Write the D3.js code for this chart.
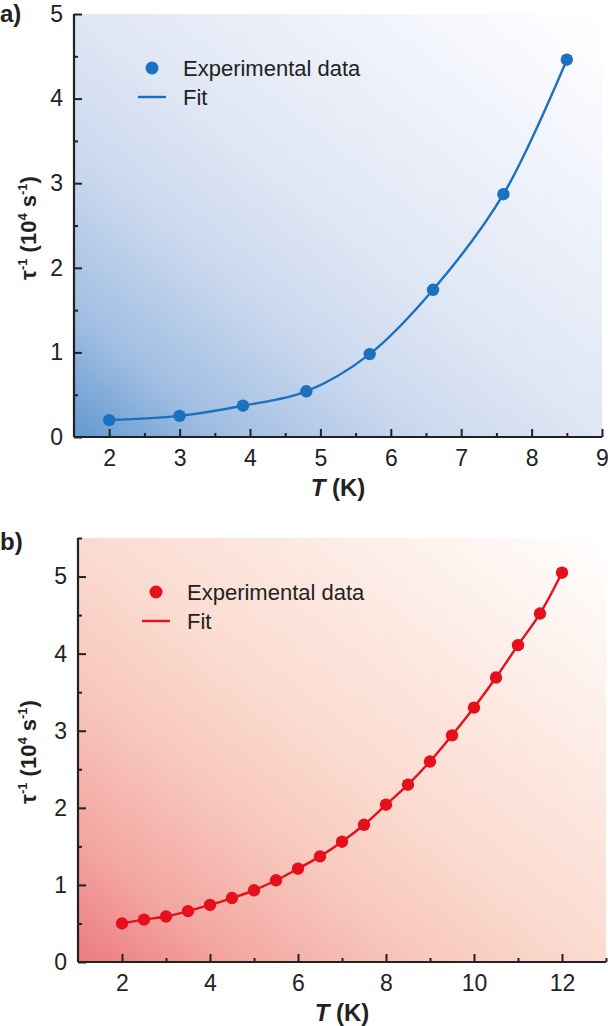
<!DOCTYPE html>
<html><head><meta charset="utf-8">
<script src="https://cdn.jsdelivr.net/npm/d3@7"></script>
<style>body{margin:0;background:#fff;}svg{display:block;font-family:Arial,"Liberation Sans",sans-serif;}</style>
</head><body>
<svg id="c" width="608" height="1026"></svg>
<script>
// Panel a data
const tempA = [2, 3, 3.9, 4.8, 5.7, 6.6, 7.6, 8.5];
const rateA = [0.2, 0.25, 0.37, 0.54, 0.98, 1.74, 2.87, 4.46];
const xTicksA = [2, 3, 4, 5, 6, 7, 8, 9];
const yTicksA = [0, 1, 2, 3, 4, 5];
// Panel b data
const tempB = [2, 2.5, 3, 3.5, 4, 4.5, 5, 5.5, 6, 6.5, 7, 7.5, 8, 8.5, 9, 9.5, 10, 10.5, 11, 11.5, 12];
const rateB = [0.5, 0.55, 0.59, 0.66, 0.74, 0.83, 0.93, 1.06, 1.21, 1.37, 1.56, 1.78, 2.04, 2.3, 2.6, 2.94, 3.3, 3.69, 4.11, 4.52, 5.05];
const xTicksB = [2, 4, 6, 8, 10, 12];
const yTicksB = [0, 1, 2, 3, 4, 5];
const legendLabels = ["Experimental data", "Fit"];

const svg = d3.select("#c");
const defs = svg.append("defs");

function panel(cfg) {
  const g = defs.append("linearGradient").attr("id", cfg.id)
    .attr("x1", 0).attr("y1", 1).attr("x2", 1).attr("y2", 0);
  cfg.stops.forEach(s => g.append("stop").attr("offset", s[0]).attr("stop-color", s[1]));

  const x = d3.scaleLinear().domain(cfg.xDom).range([cfg.left, cfg.right]);
  const y = d3.scaleLinear().domain(cfg.yDom).range([cfg.bottom, cfg.top]);

  svg.append("rect").attr("x", cfg.left).attr("y", cfg.top)
    .attr("width", cfg.right - cfg.left).attr("height", cfg.bottom - cfg.top)
    .attr("fill", `url(#${cfg.id})`);

  const xMinor = d3.range(cfg.xDom[0], cfg.xDom[1] + 1e-9, cfg.xMinorStep).filter(v => !cfg.xTicks.includes(v) && v > cfg.xDom[0]);
  const yMinor = d3.range(cfg.yDom[0], cfg.yDom[1] + 1e-9, 0.5).filter(v => !cfg.yTicks.includes(v));

  const xAxis = svg.append("g").attr("transform", `translate(0,${cfg.bottom})`)
    .call(d3.axisBottom(x).tickValues(cfg.xTicks).tickSize(-8).tickPadding(13).tickFormat(d3.format("d")));
  svg.append("g").attr("transform", `translate(0,${cfg.bottom})`)
    .call(d3.axisBottom(x).tickValues(xMinor).tickSize(-4).tickFormat(""))
    .call(s => s.select(".domain").remove());
  const yAxis = svg.append("g").attr("transform", `translate(${cfg.left},0)`)
    .call(d3.axisLeft(y).tickValues(cfg.yTicks).tickSize(-8).tickPadding(11).tickFormat(d3.format("d")));
  svg.append("g").attr("transform", `translate(${cfg.left},0)`)
    .call(d3.axisLeft(y).tickValues(yMinor).tickSize(-4).tickFormat(""))
    .call(s => s.select(".domain").remove());

  svg.selectAll("g .domain").attr("stroke", "#222").attr("stroke-width", 2.2);
  svg.selectAll("g .tick line").attr("stroke", "#222").attr("stroke-width", 2);
  svg.selectAll("g .tick text").attr("font-size", 23).attr("fill", "#222")
    .attr("font-family", "Arial, 'Liberation Sans', sans-serif");
  xAxis.select(".domain").attr("d", `M${cfg.left},0H${cfg.right}`);
  yAxis.select(".domain").attr("d", `M0,${cfg.bottom}V${cfg.top}`);

  const line = d3.line().x((d, i) => x(cfg.tx[i])).y(d => y(d)).curve(d3.curveCatmullRom.alpha(0.5));
  svg.append("path").datum(cfg.ty).attr("d", line).attr("fill", "none")
    .attr("stroke", cfg.color).attr("stroke-width", 2.4);
  svg.append("g").selectAll("circle").data(cfg.ty).join("circle")
    .attr("cx", (d, i) => x(cfg.tx[i])).attr("cy", d => y(d)).attr("r", 6.2).attr("fill", cfg.color);

  // legend
  svg.append("circle").attr("cx", cfg.legX).attr("cy", cfg.legY).attr("r", 6.5).attr("fill", cfg.color);
  svg.append("line").attr("x1", cfg.legX - 14).attr("x2", cfg.legX + 14)
    .attr("y1", cfg.legY + 29).attr("y2", cfg.legY + 29).attr("stroke", cfg.color).attr("stroke-width", 2.4);
  legendLabels.forEach((t, i) => svg.append("text").attr("x", cfg.legX + 31).attr("y", cfg.legY + 8 + i * 29)
    .attr("font-size", 22).attr("fill", "#222").text(t));

  svg.append("text").attr("x", 0).attr("y", cfg.letterY).attr("font-size", 24).attr("font-weight", "bold")
    .attr("fill", "#222").text(cfg.letter);

  const xt = svg.append("text").attr("x", (cfg.left + cfg.right) / 2).attr("y", cfg.bottom + 59)
    .attr("text-anchor", "middle").attr("font-size", 24).attr("font-weight", "bold").attr("fill", "#222");
  xt.append("tspan").attr("font-style", "italic").text("T");
  xt.append("tspan").text(" (K)");

  const yt = svg.append("text").attr("transform", `translate(36,${cfg.yTitleY}) rotate(-90)`)
    .attr("text-anchor", "middle").attr("font-size", 22).attr("font-weight", "bold").attr("fill", "#222");
  yt.append("tspan").text("τ");
  yt.append("tspan").attr("dy", -9).attr("font-size", 13).text("-1");
  yt.append("tspan").attr("dy", 9).text(" (10");
  yt.append("tspan").attr("dy", -9).attr("font-size", 13).text("4");
  yt.append("tspan").attr("dy", 9).text(" s");
  yt.append("tspan").attr("dy", -9).attr("font-size", 13).text("-1");
  yt.append("tspan").attr("dy", 9).text(")");
}

panel({
  id: "gA", stops: [[0, "#6398d0"], [0.15, "#a2bfe3"], [0.33, "#cad8ee"], [0.5, "#dfe6f4"], [0.78, "#f1f4fb"], [1, "#ffffff"]],
  xDom: [1.5, 9], yDom: [0, 5], left: 74, right: 602, top: 14, bottom: 437,
  xTicks: xTicksA, yTicks: yTicksA, xMinorStep: 0.5,
  tx: tempA, ty: rateA, color: "#1b70c0",
  legX: 152, legY: 68, letter: "a)", letterY: 22, yTitleY: 228
});
panel({
  id: "gB", stops: [[0, "#ec7a80"], [0.15, "#f3a6a2"], [0.33, "#f8c8bc"], [0.5, "#fbdbd0"], [0.78, "#fdefe9"], [1, "#ffffff"]],
  xDom: [1, 13], yDom: [0, 5.5], left: 78, right: 606, top: 538, bottom: 962,
  xTicks: xTicksB, yTicks: yTicksB, xMinorStep: 1,
  tx: tempB, ty: rateB, color: "#e5101c",
  legX: 156, legY: 592, letter: "b)", letterY: 550, yTitleY: 752
});
</script>
</body></html>
